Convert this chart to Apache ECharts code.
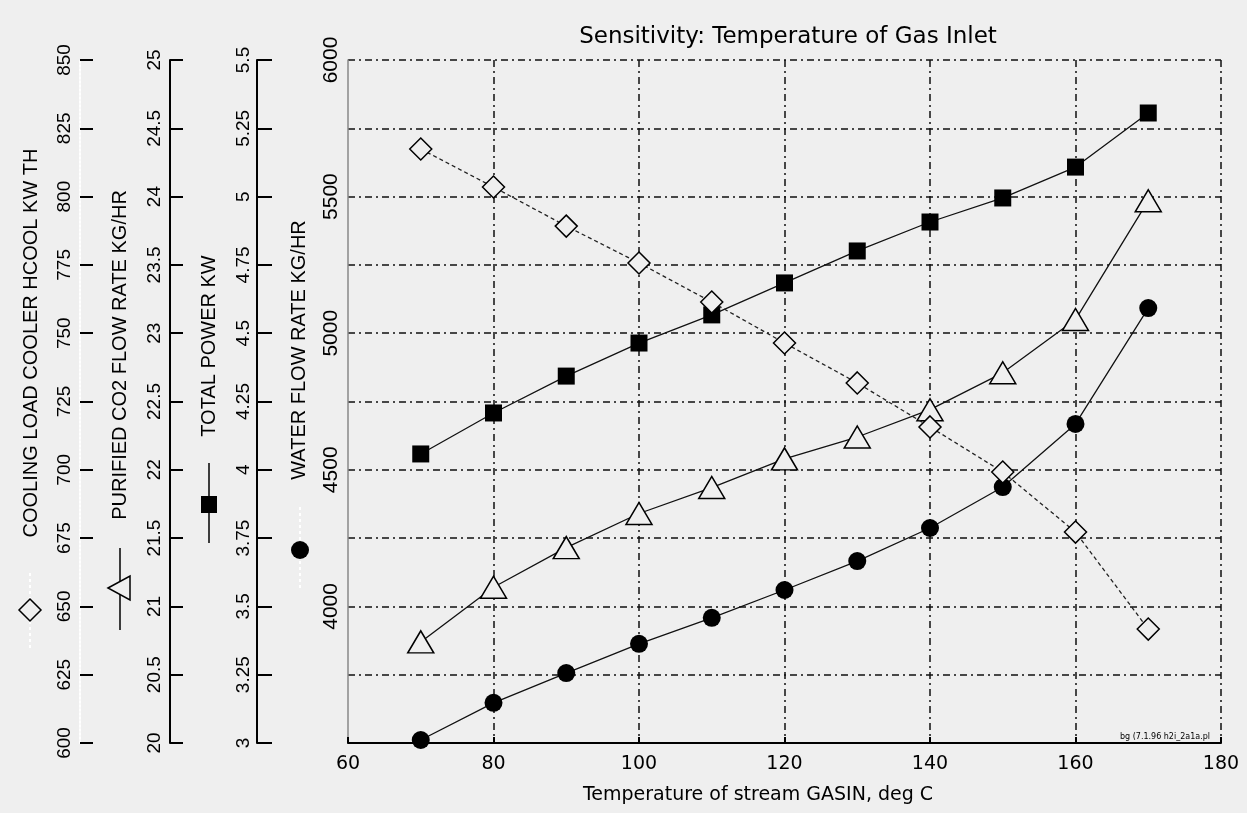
<!DOCTYPE html>
<html>
<head>
<meta charset="utf-8">
<script src="https://cdn.jsdelivr.net/npm/echarts@6/dist/echarts.min.js"></script>
<style>
html,body{margin:0;padding:0;background:#efefef;}
#chart{width:1247px;height:813px;}
</style>
</head>
<body>
<div id="chart"></div>
<script>
// ---- data ----
const temps = [70, 80, 90, 100, 110, 120, 130, 140, 150, 160, 170];
const coolingLoad = [817.4, 803.5, 789.2, 775.7, 761.4, 746.4, 731.8, 715.7, 699.2, 677.2, 641.7];
const co2Flow = [20.74, 21.14, 21.43, 21.68, 21.87, 22.08, 22.24, 22.44, 22.71, 23.10, 23.97];
const totalPower = [4.058, 4.208, 4.343, 4.464, 4.567, 4.684, 4.801, 4.907, 4.995, 5.108, 5.306];
const waterFlow = [3511, 3647, 3756, 3863, 3958, 4060, 4166, 4287, 4437, 4668, 5092];

const chartTitle = 'Sensitivity: Temperature of Gas Inlet';
const xTitle = 'Temperature of stream GASIN, deg C';
const coolingTitle = 'COOLING LOAD COOLER HCOOL KW TH';
const co2Title = 'PURIFIED CO2 FLOW RATE KG/HR';
const powerTitle = 'TOTAL POWER KW';
const waterTitle = 'WATER FLOW RATE KG/HR';
const waterLabelStep = 500;

const BG = '#efefef';
const pairs = arr => temps.map((t, i) => [t, arr[i]]);
const gridDash = { color: '#111', width: 1.5, type: [7, 4, 2, 4] };

function leftAxis(min, max, interval, offset, fontSize, lineColor, lineType, tickLen, margin) {
  return {
    type: 'value', position: 'left', min, max, interval, offset,
    axisLine: { show: true, onZero: false, lineStyle: { color: lineColor, width: 2, type: lineType } },
    axisTick: { show: true, inside: true, length: tickLen, lineStyle: { color: '#000', width: 2 } },
    axisLabel: { rotate: 90, color: '#000', fontFamily: 'Liberation Sans', fontSize, margin },
    splitLine: { show: false }
  };
}

const chart = echarts.init(document.getElementById('chart'), null, { renderer: 'canvas' });
const ROT = Math.PI / 2;
const titleFont = '20px "Liberation Sans"';

chart.setOption({
  backgroundColor: BG,
  animation: false,
  grid: { left: 348, right: 26, top: 60, bottom: 70, containLabel: false },
  xAxis: {
    type: 'value', min: 60, max: 180, interval: 20,
    axisLine: { lineStyle: { color: '#000', width: 2 } },
    axisTick: { inside: true, length: 6, lineStyle: { color: '#000', width: 2 } },
    axisLabel: { color: '#000', fontFamily: 'DejaVu Sans', fontSize: 19, margin: 12 },
    splitLine: { show: true, showMinLine: false, lineStyle: gridDash }
  },
  yAxis: [
    leftAxis(600, 850, 25, 268, 19, '#ffffff', 'dotted', 13, 6),
    leftAxis(20, 25, 0.5, 178, 19, '#000', 'solid', 13, 6),
    leftAxis(3, 5.5, 0.25, 91, 19, '#000', 'solid', 15, 4),
    {
      type: 'value', position: 'left', min: 3500, max: 6000, interval: 250, offset: 0,
      axisLine: { show: true, lineStyle: { color: '#888', width: 1.5 } },
      axisTick: { show: false },
      axisLabel: {
        rotate: 90, color: '#000', fontFamily: 'Liberation Sans', fontSize: 21, margin: 6,
        formatter: v => (v % waterLabelStep === 0 && v !== 3500) ? String(v) : ''
      },
      splitLine: { show: true, lineStyle: gridDash }
    }
  ],
  series: [
    {
      name: coolingTitle, type: 'line', yAxisIndex: 0, data: pairs(coolingLoad),
      symbol: 'diamond', symbolSize: [22, 22],
      itemStyle: { color: BG, borderColor: '#000', borderWidth: 1.5 },
      lineStyle: { color: '#222', width: 1.3, type: [4, 3] }, z: 5
    },
    {
      name: co2Title, type: 'line', yAxisIndex: 1, data: pairs(co2Flow),
      symbol: 'triangle', symbolSize: [26, 22],
      itemStyle: { color: BG, borderColor: '#000', borderWidth: 1.5 },
      lineStyle: { color: '#111', width: 1.3 }, z: 4
    },
    {
      name: powerTitle, type: 'line', yAxisIndex: 2, data: pairs(totalPower),
      symbol: 'rect', symbolSize: [17, 17],
      itemStyle: { color: '#000', borderColor: '#000', borderWidth: 0 },
      lineStyle: { color: '#111', width: 1.3 }, z: 4
    },
    {
      name: waterTitle, type: 'line', yAxisIndex: 3, data: pairs(waterFlow),
      symbol: 'circle', symbolSize: 18,
      itemStyle: { color: '#000', borderColor: '#000', borderWidth: 0 },
      lineStyle: { color: '#111', width: 1.3 }, z: 4
    }
  ],
  graphic: [
    { type: 'text', x: 788, y: 37, style: { text: chartTitle, font: '23px "DejaVu Sans"', fill: '#000', align: 'center', verticalAlign: 'middle' } },
    { type: 'text', x: 758, y: 795, style: { text: xTitle, font: '19px "DejaVu Sans"', fill: '#000', align: 'center', verticalAlign: 'middle' } },
    { type: 'text', x: 1165, y: 737, style: { text: 'bg (7.1.96 h2i_2a1a.pl', font: '8px "DejaVu Sans"', fill: '#000', align: 'center', verticalAlign: 'middle' } },

    // cooling legend
    { type: 'text', x: 31, y: 343, rotation: ROT, style: { text: coolingTitle, font: titleFont, fill: '#000', align: 'center', verticalAlign: 'middle' } },
    { type: 'line', shape: { x1: 30, y1: 573, x2: 30, y2: 650 }, style: { stroke: '#fff', lineWidth: 2, lineDash: [3, 3] } },
    { type: 'polygon', shape: { points: [[30, 599], [41, 610], [30, 621], [19, 610]] }, style: { fill: BG, stroke: '#000', lineWidth: 1.5 } },

    // CO2 legend
    { type: 'text', x: 120, y: 355, rotation: ROT, style: { text: co2Title, font: titleFont, fill: '#000', align: 'center', verticalAlign: 'middle' } },
    { type: 'line', shape: { x1: 120, y1: 548, x2: 120, y2: 630 }, style: { stroke: '#000', lineWidth: 1.5 } },
    { type: 'polygon', shape: { points: [[108, 588], [130, 576], [130, 600]] }, style: { fill: BG, stroke: '#000', lineWidth: 1.5 } },

    // power legend
    { type: 'text', x: 209, y: 346, rotation: ROT, style: { text: powerTitle, font: titleFont, fill: '#000', align: 'center', verticalAlign: 'middle' } },
    { type: 'line', shape: { x1: 209, y1: 463, x2: 209, y2: 543 }, style: { stroke: '#000', lineWidth: 1.5 } },
    { type: 'rect', shape: { x: 201, y: 496, width: 16, height: 17 }, style: { fill: '#000' } },

    // water legend
    { type: 'text', x: 299, y: 350, rotation: ROT, style: { text: waterTitle, font: titleFont, fill: '#000', align: 'center', verticalAlign: 'middle' } },
    { type: 'line', shape: { x1: 300, y1: 507, x2: 300, y2: 590 }, style: { stroke: '#fff', lineWidth: 2, lineDash: [3, 3] } },
    { type: 'circle', shape: { cx: 300, cy: 550, r: 9 }, style: { fill: '#000' } }
  ]
});
</script>
</body>
</html>
